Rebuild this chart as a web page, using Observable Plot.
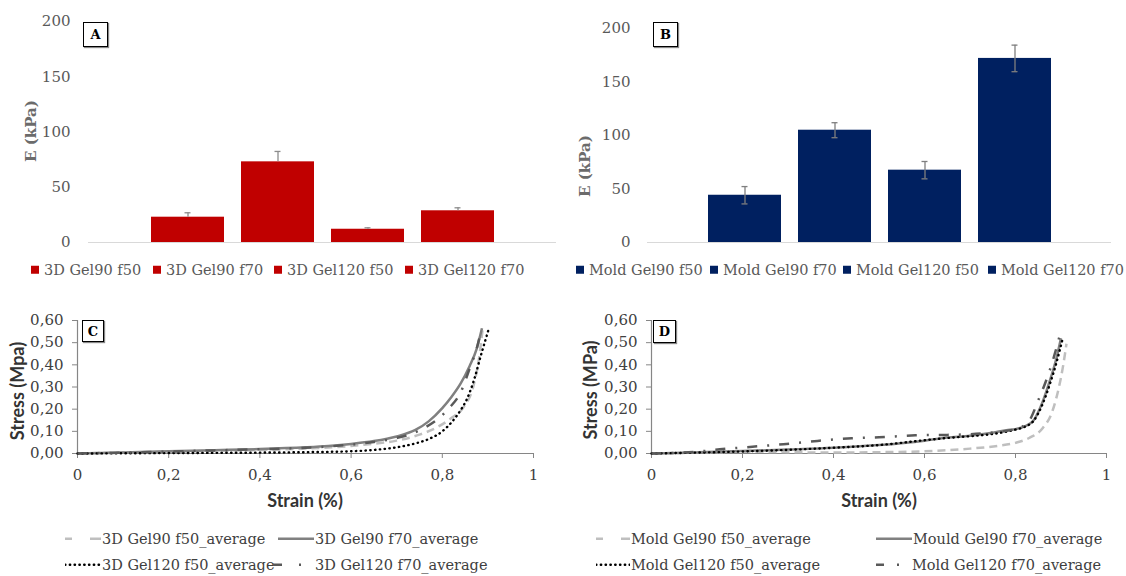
<!DOCTYPE html>
<html><head><meta charset="utf-8">
<script src="https://cdn.jsdelivr.net/npm/d3@7"></script>
<script src="https://cdn.jsdelivr.net/npm/@observablehq/plot@0.6"></script>
<style>
body{margin:0;background:#fff;}
#root{position:relative;width:1126px;height:576px;overflow:hidden;font-family:"DejaVu Serif",serif;}
.panel{position:absolute;}
.panel svg{display:block;overflow:visible;}
.box{position:absolute;border:1px solid #000;background:#fff;font:bold 13px "DejaVu Serif",serif;color:#000;display:flex;align-items:center;justify-content:center;box-sizing:border-box;box-shadow:1px 1px 1px #888;}
.leg{position:absolute;font-size:14.5px;white-space:nowrap;line-height:1;transform:translateY(-50%);display:flex;align-items:center;}
.sq{display:inline-block;width:8px;height:8px;margin-right:5px;}
.ytitle{position:absolute;white-space:nowrap;transform:translate(-50%,-50%) rotate(-90deg);line-height:1;}
.xtitle{position:absolute;white-space:nowrap;transform:translate(-50%,-50%);line-height:1;}
</style>
</head><body><div id="root"></div>
<script>
// ---------- data ----------
const barCatsA = ["3D Gel90 f50", "3D Gel90 f70", "3D Gel120 f50", "3D Gel120 f70"];
const barValsA = [22.9, 73.0, 12.0, 28.7];
const barErrA  = [4.0, 9.4, 1.3, 2.7];
const barCatsB = ["Mold Gel90 f50", "Mold Gel90 f70", "Mold Gel120 f50", "Mold Gel120 f70"];
const barValsB = [44.1, 104.8, 67.5, 171.8];
const barErrB  = [8.1, 7.0, 8.1, 12.4];
const barTicks = [0, 50, 100, 150, 200];
const stressTicks = [0, 0.1, 0.2, 0.3, 0.4, 0.5, 0.6];
const strainTicks = [0, 0.2, 0.4, 0.6, 0.8, 1];

const seriesNamesC = ["3D Gel90 f50_average", "3D Gel90 f70_average", "3D Gel120 f50_average", "3D Gel120 f70_average"];
const seriesNamesD = ["Mold Gel90 f50_average", "Mould Gel90 f70_average", "Mold Gel120 f50_average", "Mold Gel120 f70_average"];

const c90f50Strain  = [0, 0.1, 0.2, 0.3, 0.4, 0.5, 0.6, 0.65, 0.7, 0.75, 0.79, 0.82, 0.847, 0.869, 0.882, 0.888];
const c90f50Stress  = [0, 0.004, 0.008, 0.012, 0.016, 0.022, 0.034, 0.044, 0.058, 0.085, 0.12, 0.16, 0.21, 0.31, 0.45, 0.555];
const c90f70Strain  = [0, 0.1, 0.2, 0.3, 0.4, 0.5, 0.55, 0.6, 0.65, 0.7, 0.74, 0.77, 0.8, 0.82, 0.84, 0.86, 0.875, 0.887];
const c90f70Stress  = [0, 0.005, 0.01, 0.015, 0.02, 0.028, 0.034, 0.043, 0.056, 0.077, 0.105, 0.145, 0.205, 0.255, 0.315, 0.395, 0.47, 0.565];
const c120f50Strain = [0, 0.2, 0.4, 0.5, 0.6, 0.65, 0.7, 0.74, 0.77, 0.8, 0.82, 0.84, 0.855, 0.87, 0.885, 0.895, 0.902];
const c120f50Stress = [0, 0.002, 0.004, 0.006, 0.01, 0.016, 0.028, 0.045, 0.065, 0.1, 0.14, 0.195, 0.25, 0.335, 0.445, 0.515, 0.563];
const c120f70Strain = [0, 0.1, 0.2, 0.3, 0.4, 0.5, 0.6, 0.65, 0.7, 0.74, 0.76, 0.79, 0.815, 0.84, 0.862, 0.875, 0.885];
const c120f70Stress = [0, 0.004, 0.009, 0.014, 0.019, 0.026, 0.04, 0.052, 0.07, 0.095, 0.115, 0.155, 0.205, 0.275, 0.395, 0.47, 0.555];

const d90f50Strain  = [0, 0.1, 0.2, 0.3, 0.4, 0.5, 0.57, 0.65, 0.7, 0.76, 0.8, 0.83, 0.86, 0.88, 0.895, 0.905, 0.912];
const d90f50Stress  = [0, 0.004, 0.008, 0.006, 0.004, 0.006, 0.008, 0.015, 0.022, 0.034, 0.048, 0.07, 0.115, 0.185, 0.295, 0.4, 0.495];
const d90f70Strain  = [0, 0.1, 0.2, 0.3, 0.4, 0.5, 0.6, 0.65, 0.7, 0.73, 0.75, 0.78, 0.8, 0.82, 0.84, 0.86, 0.875, 0.89, 0.9];
const d90f70Stress  = [0, 0.005, 0.011, 0.018, 0.026, 0.038, 0.058, 0.072, 0.08, 0.088, 0.094, 0.105, 0.11, 0.122, 0.15, 0.235, 0.325, 0.43, 0.52];
const d120f50Strain = [0, 0.1, 0.18, 0.33, 0.4, 0.5, 0.61, 0.65, 0.7, 0.75, 0.8, 0.82, 0.84, 0.86, 0.875, 0.89, 0.903];
const d120f50Stress = [0, 0.004, 0.008, 0.019, 0.026, 0.038, 0.062, 0.07, 0.078, 0.088, 0.108, 0.12, 0.148, 0.225, 0.31, 0.41, 0.513];
const d120f70Strain = [0, 0.1, 0.15, 0.2, 0.29, 0.35, 0.44, 0.5, 0.58, 0.65, 0.7, 0.75, 0.8, 0.83, 0.85, 0.87, 0.885, 0.9];
const d120f70Stress = [0, 0.008, 0.019, 0.027, 0.042, 0.054, 0.069, 0.073, 0.082, 0.084, 0.087, 0.095, 0.11, 0.148, 0.24, 0.344, 0.44, 0.555];

// ---------- styles ----------
const lineStyles = [
  {stroke: "#bfbfbf", strokeWidth: 2.5, strokeDasharray: "8,5", strokeLinecap: "butt"},
  {stroke: "#808080", strokeWidth: 2.5, strokeDasharray: null, strokeLinecap: "butt"},
  {stroke: "#000000", strokeWidth: 2.4, strokeDasharray: "0.4,4.4", strokeLinecap: "round"},
  {stroke: "#595959", strokeWidth: 2.5, strokeDasharray: "10,10,2,10", strokeLinecap: "butt"}
];
const serif = '"DejaVu Serif", serif';
const sans = 'Lato, "Open Sans", sans-serif';
const root = document.getElementById("root");

function place(node, left, top) {
  const d = document.createElement("div");
  d.className = "panel"; d.style.left = left + "px"; d.style.top = top + "px";
  d.appendChild(node); root.appendChild(d);
}
function addDiv(cls, html, css) {
  const d = document.createElement("div");
  d.className = cls; d.innerHTML = html; Object.assign(d.style, css); root.appendChild(d); return d;
}

// ---------- bar panels ----------
function barPanel(cats, vals, errs, color, opts) {
  const data = cats.map((c, i) => ({cat: c, v: vals[i], e: errs[i]}));
  const errColor = opts.both ? "#7f7f7f" : "#8c8c8c";
  const marks = [
    Plot.ruleY([0], {stroke: "#d9d9d9", strokeWidth: 1.2}),
    Plot.axisY({ticks: barTicks, tickSize: 0, tickPadding: opts.tickPad, fontSize: 15, fill: "#595959", label: null}),
    Plot.barY(data, {x: "cat", y: "v", fill: color})
  ];
  if (opts.both) {
    marks.push(Plot.ruleX(data, {x: "cat", y1: d => d.v - d.e, y2: d => d.v + d.e, stroke: errColor, strokeWidth: 1.3}));
    marks.push(Plot.tickY(data, {x: "cat", y: d => d.v - d.e, stroke: errColor, strokeWidth: 1.3, insetLeft: 33.5, insetRight: 33.5}));
  } else {
    marks.push(Plot.ruleX(data, {x: "cat", y1: "v", y2: d => d.v + d.e, stroke: errColor, strokeWidth: 1.3}));
  }
  marks.push(Plot.tickY(data, {x: "cat", y: d => d.v + d.e, stroke: errColor, strokeWidth: 1.3, insetLeft: 33.5, insetRight: 33.5}));
  return Plot.plot({
    width: opts.width, height: 250,
    marginLeft: opts.ml, marginRight: opts.mr, marginTop: opts.mt, marginBottom: 8,
    style: {fontFamily: serif, fontSize: "15px", background: "transparent", overflow: "visible"},
    x: {type: "band", domain: cats, axis: null, paddingInner: 0.189, paddingOuter: 0.67},
    y: {domain: [0, 200], axis: null},
    marks
  });
}
place(barPanel(barCatsA, barValsA, barErrA, "#c00000", {width: 560, ml: 88, mr: 4, mt: 21, tickPad: 18, both: false}), 0, 0);
place(barPanel(barCatsB, barValsB, barErrB, "#002060", {width: 566, ml: 87, mr: 15, mt: 27.7, tickPad: 17, both: true}), 560, 0);

// bar legends
const legAX = [31, 153, 274, 405];
const legBX = [576, 710, 843, 988];
barCatsA.forEach((c, i) => addDiv("leg", `<span class="sq" style="background:#c00000"></span>${c}`, {left: legAX[i] + "px", top: "270px", color: "#595959"}));
barCatsB.forEach((c, i) => addDiv("leg", `<span class="sq" style="background:#002060"></span>${c}`, {left: legBX[i] + "px", top: "270px", color: "#595959"}));

// ---------- line panels ----------
const fmtStress = d => d.toFixed(2).replace(".", ",");
const fmtStrain = d => String(+d.toFixed(1)).replace(".", ",");
function linePanel(series, opts) {
  const axisGray = "#868686";
  const marks = [
    Plot.ruleY([0], {stroke: axisGray, strokeWidth: 1.2}),
    Plot.ruleX([0], {stroke: axisGray, strokeWidth: 1.2}),
    Plot.axisX({ticks: strainTicks, tickSize: 5, tickPadding: 11, tickFormat: fmtStrain, stroke: axisGray, fill: "#404040", fontSize: 15, label: null}),
    Plot.axisY({ticks: stressTicks, tickSize: 5, tickPadding: opts.yPad, tickFormat: fmtStress, stroke: axisGray, fill: "#404040", fontSize: 15, label: null})
  ];
  series.forEach(([xs, ys], i) => {
    const data = xs.map((x, j) => ({x, y: ys[j]}));
    const s = lineStyles[i];
    marks.push(Plot.line(data, {x: "x", y: "y", curve: "monotone-x", stroke: s.stroke, strokeWidth: s.strokeWidth,
      strokeDasharray: s.strokeDasharray, strokeLinecap: s.strokeLinecap}));
  });
  return Plot.plot({
    width: opts.width, height: 215,
    marginLeft: opts.ml, marginRight: opts.mr, marginTop: 20, marginBottom: 62,
    style: {fontFamily: serif, fontSize: "15px", background: "transparent", overflow: "visible"},
    x: {domain: [0, 1], axis: null},
    y: {domain: [0, 0.6], axis: null},
    marks
  });
}
place(linePanel([[c90f50Strain, c90f50Stress], [c90f70Strain, c90f70Stress], [c120f50Strain, c120f50Stress], [c120f70Strain, c120f70Stress]],
  {width: 560, ml: 77, mr: 27, yPad: 9}), 0, 300);
place(linePanel([[d90f50Strain, d90f50Stress], [d90f70Strain, d90f70Stress], [d120f50Strain, d120f50Stress], [d120f70Strain, d120f70Stress]],
  {width: 566, ml: 91, mr: 20, yPad: 9}), 560, 300);

// line legends (swatch: [left, top, swatch width, dasharray override, gap to text])
function swatch(i, w, dash, gap) {
  const s = lineStyles[i];
  const da = dash || s.strokeDasharray;
  return `<svg width="${w}" height="10" style="display:block;margin-right:${gap}px"><line x1="0" y1="5" x2="${w}" y2="5" stroke="${s.stroke}" stroke-width="${s.strokeWidth}" ${da ? `stroke-dasharray="${da}"` : ""} stroke-linecap="${s.strokeLinecap}"/></svg>`;
}
const legC = [[65, 539, 36, "7,18,11", 1], [278, 539, 36, null, 1], [65, 565, 36, null, 1], [273, 565, 30, "9,17,2,10", 12]];
const legD = [[596, 539, 34, "7,18,9", 1], [876, 539, 36, null, 1], [596, 565, 34, null, 1], [876, 565, 24, "8,13,2,10", 12]];
seriesNamesC.forEach((n, i) => addDiv("leg", swatch(i, legC[i][2], legC[i][3], legC[i][4]) + n, {left: legC[i][0] + "px", top: legC[i][1] + "px", color: "#404040"}));
seriesNamesD.forEach((n, i) => addDiv("leg", swatch(i, legD[i][2], legD[i][3], legD[i][4]) + n, {left: legD[i][0] + "px", top: legD[i][1] + "px", color: "#404040"}));

// ---------- titles & panel letters ----------
addDiv("ytitle", "E (kPa)", {left: "31px", top: "131px", font: `bold 15px ${serif}`, color: "#6b6b6b"});
addDiv("ytitle", "E (kPa)", {left: "585px", top: "166px", font: `bold 15px ${serif}`, color: "#6b6b6b"});
addDiv("ytitle", "Stress (Mpa)", {left: "17px", top: "391px", font: `bold 18px ${sans}`, color: "#333"});
addDiv("ytitle", "Stress (MPa)", {left: "590px", top: "390px", font: `bold 18px ${sans}`, color: "#333"});
addDiv("xtitle", "Strain (%)", {left: "305px", top: "500px", font: `bold 18px ${sans}`, color: "#333"});
addDiv("xtitle", "Strain (%)", {left: "879px", top: "500px", font: `bold 18px ${sans}`, color: "#333"});
[["A", 83, 22, 25], ["B", 653, 22, 25], ["C", 82, 320, 22], ["D", 653, 320, 23]].forEach(([t, x, y, s]) =>
  addDiv("box", t, {left: x + "px", top: y + "px", width: s + "px", height: s + "px"}));
</script>
</body></html>
